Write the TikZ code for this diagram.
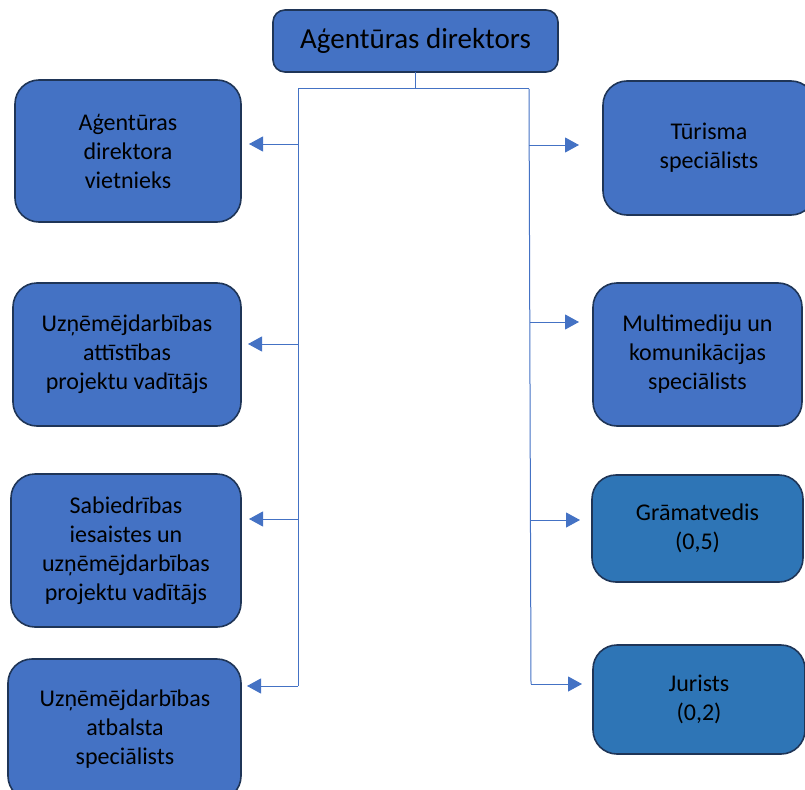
\documentclass[tikz,border=0pt]{standalone}
\usepackage{fontspec}
\setmainfont{Carlito}
\usetikzlibrary{arrows.meta}
\definecolor{boxA}{HTML}{4472C4}
\definecolor{boxB}{HTML}{2E75B6}
\definecolor{edge}{HTML}{1F3557}
\definecolor{conn}{HTML}{4472C4}
\tikzset{
  orgbox/.style={draw=edge, line width=1.6pt, fill=boxA, rounded corners=24pt,
    inner sep=0pt, outer sep=0pt, align=center,
    font=\fontsize{24}{29}\selectfont, text=black},
  boxsize/.style 2 args={minimum width=#1pt, minimum height=#2pt},
  link/.style={draw=conn, line width=1pt},
  arr/.style={link, -{Triangle[length=14pt,width=15pt]}}
}
\begin{document}
\begin{tikzpicture}[x=1pt,y=-1pt]
\useasboundingbox (0,0) rectangle (805,789);
% top box
\node[orgbox, rounded corners=12pt, boxsize={285}{62}, font=\fontsize{29}{34}\selectfont] (top) at (415.5,41) {Aģentūras direktors};
% left boxes
\node[orgbox, boxsize={226}{142}] (l1) at (128,151) {Aģentūras\\direktora\\vietnieks};
\node[orgbox, boxsize={228}{143}] (l2) at (127,354.5) {Uzņēmējdarbības\\attīstības\\projektu vadītājs};
\node[orgbox, boxsize={230}{153}] (l3) at (126,550.5) {Sabiedrības\\iesaistes un\\uzņēmējdarbības\\projektu vadītājs};
\node[orgbox, boxsize={233}{141}, text depth=0pt] (l4) at (124.5,729.5) {};
\node[align=center, font=\fontsize{24}{29}\selectfont] (l4t) at (125,729) {Uzņēmējdarbības\\atbalsta\\speciālists};
% right boxes
\node[orgbox, boxsize={212}{134}] (r1) at (709,148) {};
\node[align=center, font=\fontsize{24}{29}\selectfont] (r1t) at (709,148) {Tūrisma\\speciālists};
\node[orgbox, boxsize={209}{143}] (r2) at (697.5,354.5) {Multimediju un\\komunikācijas\\speciālists};
\node[orgbox, fill=boxB, boxsize={211}{107}] (r3) at (697.5,528.5) {Grāmatvedis\\(0,5)};
\node[orgbox, fill=boxB, boxsize={212}{109}] (r4) at (699,699.5) {Jurists\\(0,2)};
% connectors
\coordinate (jl) at (298,89);
\coordinate (jr) at (529,89);
\draw[link] (top.south) -- (top.south |- jl);
\draw[link] (jl) -- (jr);
\coordinate (al1) at (298,144);
\coordinate (al2) at (298,344);
\coordinate (al3) at (298,519);
\coordinate (al4) at (298,686);
\coordinate (ar1) at (529,145);
\coordinate (ar2) at (530,322);
\coordinate (ar3) at (530,520);
\coordinate (ar4) at (531,684);
\draw[link] (jl) -- (al4);
\draw[link] (jr) -- (ar4);
\draw[arr, shorten >=8pt] (al1) -- (al1 -| l1.east);
\draw[arr, shorten >=7pt] (al2) -- (al2 -| l2.east);
\draw[arr, shorten >=8pt] (al3) -- (al3 -| l3.east);
\draw[arr, shorten >=6pt] (al4) -- (al4 -| l4.east);
\draw[arr, shorten >=24pt] (ar1) -- (ar1 -| r1.west);
\draw[arr, shorten >=14pt] (ar2) -- (ar2 -| r2.west);
\draw[arr, shorten >=12pt] (ar3) -- (ar3 -| r3.west);
\draw[arr, shorten >=11pt] (ar4) -- (ar4 -| r4.west);
\end{tikzpicture}
\end{document}
